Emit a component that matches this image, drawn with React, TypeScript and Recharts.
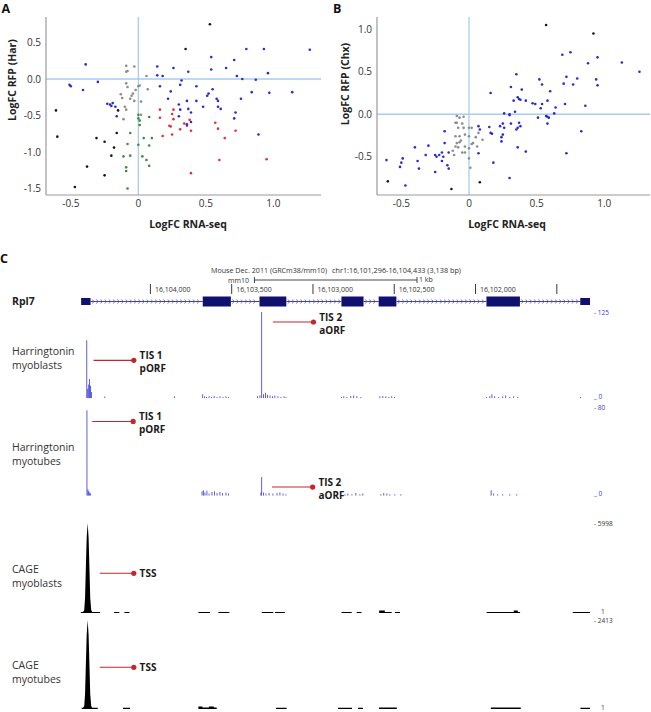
import React from 'react';
import {
  Area,
  Bar,
  ComposedChart,
  ReferenceArea,
  ReferenceDot,
  ReferenceLine,
  Scatter,
  ScatterChart,
  XAxis,
  YAxis,
} from 'recharts';

const FONT = '"Open Sans", "DejaVu Sans", sans-serif';

type Pt = [number, number];

// ---------- panel A: logFC RNA-seq vs logFC RFP (Har) ----------
const harBlue: Pt[] = [
  [-0.39, 0.2], [-0.51, -0.08], [-0.5, -0.1], [-0.41, -0.15], [-0.3, -0.04],
  [-0.23, -0.34], [-0.21, -0.35], [-0.2, -0.37], [-0.19, -0.33], [-0.17, -0.38],
  [-0.16, -0.51], [0.14, 0.17], [0.14, 0.05], [0.18, 0.04], [0.16, -0.1],
  [0.26, 0.15], [0.22, -0.27], [0.24, -0.17], [0.31, -0.08], [0.32, -0.02],
  [0.3, -0.35], [0.31, -0.42], [0.3, -0.51], [0.36, -0.3], [0.37, 0.1],
  [0.37, -0.41], [0.39, -0.46], [0.39, -0.59], [0.36, -0.62], [0.43, -0.1],
  [0.43, -0.3], [0.48, -0.38], [0.51, -0.23], [0.52, -0.2], [0.54, 0.13],
  [0.54, 0.3], [0.55, -0.14], [0.58, -0.27], [0.59, -0.3], [0.59, -0.38],
  [0.61, -0.41], [0.65, 0.15], [0.71, 0.26], [0.73, 0.04], [0.76, -0.27],
  [0.77, 0.0], [0.8, 0.41], [0.84, -0.18], [0.87, -0.01], [0.93, 0.41],
  [0.96, 0.08], [0.97, -0.19], [1.14, -0.18], [1.27, 0.4], [0.71, -0.54],
  [0.72, -0.46], [0.89, -0.76],
];
const harBlack: Pt[] = [
  [0.53, 0.75], [0.35, 0.41], [-0.61, -0.43], [-0.6, -0.79], [-0.38, -1.2],
  [-0.47, -1.48], [-0.31, -0.81], [-0.25, -0.86], [-0.25, -1.32], [-0.2, -1.05],
  [-0.18, -0.94], [-0.16, -0.74], [-0.15, -0.43],
];
const harGrey: Pt[] = [
  [-0.09, 0.18], [-0.09, 0.1], [-0.08, 0.11], [-0.03, 0.17], [-0.09, -0.06],
  [-0.08, -0.11], [-0.02, -0.15], [0.0, -0.1], [0.01, -0.09], [-0.05, -0.23],
  [-0.04, -0.2], [-0.13, -0.21], [-0.12, -0.26], [-0.1, -0.38], [-0.09, -0.42],
  [0.02, -0.31], [0.06, 0.04], [0.07, -0.14], [0.02, -0.49], [-0.11, -0.55],
  [-0.06, -0.27], [-0.03, -0.3],
];
const harGreen: Pt[] = [
  [0.0, -0.49], [0.0, -0.54], [0.01, -0.57], [0.01, -0.63], [0.08, -0.52],
  [-0.06, -0.74], [-0.08, -0.89], [0.04, -0.81], [0.1, -0.81], [0.08, -0.91],
  [0.0, -0.9], [-0.11, -1.06], [-0.06, -1.05], [0.03, -1.06], [0.06, -1.11],
  [0.08, -1.19], [-0.09, -1.21], [-0.09, -1.26], [-0.08, -1.5],
];
const harRed: Pt[] = [
  [0.16, -0.42], [0.16, -0.53], [0.26, -0.42], [0.25, -0.48], [0.26, -0.55],
  [0.23, -0.64], [0.24, -0.65], [0.18, -0.78], [0.25, -0.76], [0.31, -0.69],
  [0.34, -0.61], [0.36, -0.64], [0.38, -0.56], [0.39, -0.71], [0.57, -0.6],
  [0.59, -0.68], [0.64, -0.81], [0.72, -0.71], [0.6, -1.11], [0.39, -1.29],
  [0.95, -1.1],
];

// ---------- panel B: logFC RNA-seq vs logFC RFP (Chx) ----------
const chxBlue: Pt[] = [
  [-0.61, -0.54], [-0.51, -0.62], [-0.49, -0.52], [-0.5, -0.57], [-0.47, -0.84],
  [-0.4, -0.39], [-0.38, -0.55], [-0.37, -0.64], [-0.32, -0.48], [-0.3, -0.37],
  [-0.25, -0.48], [-0.24, -0.5], [-0.22, -0.48], [-0.25, -0.68], [-0.2, -0.45],
  [-0.19, -0.5], [-0.2, -0.55], [-0.18, -0.2], [-0.18, -0.34], [-0.16, -0.6],
  [-0.15, -0.64], [-0.15, -0.45], [0.16, 0.25], [0.07, -0.14], [0.08, -0.18],
  [0.15, -0.15], [0.16, -0.22], [0.17, -0.23], [0.07, -0.46], [0.18, -0.57],
  [0.23, -0.14], [0.24, -0.27], [0.24, -0.32], [0.25, -0.11], [0.26, -0.16],
  [0.25, -0.24], [0.26, 0.01], [0.3, 0.0], [0.3, -0.01], [0.31, -0.11],
  [0.31, 0.32], [0.33, 0.16], [0.35, 0.47], [0.36, 0.2], [0.34, 0.03],
  [0.37, 0.18], [0.38, 0.17], [0.37, -0.1], [0.35, -0.18], [0.36, -0.16],
  [0.38, -0.14], [0.39, 0.29], [0.36, -0.39], [0.42, -0.44], [0.42, 0.16],
  [0.47, 0.13], [0.49, 0.12], [0.51, -0.04], [0.52, 0.41], [0.53, 0.07],
  [0.54, 0.12], [0.54, 0.35], [0.57, -0.02], [0.58, -0.03], [0.58, -0.11],
  [0.59, -0.04], [0.58, 0.16], [0.6, 0.27], [0.64, 0.08], [0.63, 0.01],
  [0.69, 0.7], [0.7, 0.36], [0.71, 0.12], [0.72, 0.44], [0.72, -0.46],
  [0.75, 0.73], [0.77, 0.35], [0.8, 0.42], [0.83, -0.2], [0.86, 0.1],
  [0.88, 0.6], [0.94, 0.41], [0.95, 0.67], [0.95, 0.34], [1.13, 0.61],
  [1.26, 0.5], [0.3, -0.75],
];
const chxBlack: Pt[] = [
  [0.57, 1.05], [0.92, 0.95], [-0.6, -0.79], [-0.13, -0.88], [0.08, -0.8],
];
const chxGrey: Pt[] = [
  [-0.09, -0.02], [-0.07, -0.04], [-0.04, -0.03], [-0.1, -0.1], [-0.09, -0.1],
  [-0.05, -0.11], [-0.08, -0.16], [-0.04, -0.16], [0.0, -0.16], [0.02, -0.16],
  [-0.1, -0.26], [-0.07, -0.26], [-0.03, -0.24], [0.0, -0.26], [-0.09, -0.34],
  [-0.07, -0.33], [-0.1, -0.38], [-0.08, -0.39], [-0.03, -0.38], [0.0, -0.4],
  [-0.05, -0.45], [-0.03, -0.45], [-0.12, -0.43], [-0.11, -0.48], [0.0, -0.52],
  [0.01, -0.63], [0.03, -0.34], [0.06, -0.38], [0.1, -0.3], [0.07, -0.22],
  [0.02, -0.35], [-0.06, -0.31], [0.05, -0.27],
];

const scatterXTicks = [-0.5, 0, 0.5, 1.0];
const harYTicks = [-1.5, -1.0, -0.5, 0, 0.5];
const chxYTicks = [-0.5, 0, 0.5, 1.0];

// ---------- panel C: Rpl7 locus, chr1:16,101,296-16,104,433 ----------
const REGION_START = 16101296;
const REGION_END = 16104433;

// exons in display order (left to right, coordinates decrease)
const exonRanges: Pt[] = [
  [16104426, 16104368],
  [16103678, 16103505],
  [16103329, 16103164],
  [16102825, 16102689],
  [16102596, 16102487],
  [16101933, 16101727],
  [16101356, 16101296],
];
const exonIsUtr = [true, false, false, false, false, false, true];

const rulerTicks = [16104000, 16103500, 16103000, 16102500, 16102000, 16101500];
const rulerLabels = ['16,104,000', '16,103,500', '16,103,000', '16,102,500', '16,102,000', ''];
const scaleBar: Pt = [16103360, 16102360]; // 1 kb

// Harringtonin read density [position, reads]
const harMyoblasts: Pt[] = [
  [16104391, 84], [16104385, 14], [16104379, 20], [16104374, 28], [16104369, 18],
  [16104363, 9], [16104280, 2.5], [16103852, 2.5],
  [16103678, 6], [16103667, 3], [16103655, 2], [16103639, 3], [16103624, 2],
  [16103608, 3.5], [16103590, 2], [16103572, 3], [16103553, 2], [16103535, 3],
  [16103519, 2],
  [16103341, 3], [16103326, 4], [16103315, 125], [16103304, 6], [16103292, 8],
  [16103280, 5], [16103264, 4], [16103249, 3], [16103234, 4], [16103215, 3],
  [16103197, 2], [16103178, 3], [16103166, 2],
  [16102825, 2], [16102810, 3], [16102791, 2], [16102767, 3.5], [16102749, 4],
  [16102730, 3], [16102705, 2],
  [16102588, 3], [16102570, 3.5], [16102551, 3], [16102533, 2], [16102515, 3],
  [16102497, 2],
  [16101931, 2], [16101912, 3], [16101899, 6], [16101882, 3], [16101857, 2],
  [16101832, 3], [16101814, 4], [16101789, 2], [16101765, 3], [16101740, 2],
  [16101353, 2],
];
const harMyotubes: Pt[] = [
  [16104390, 77], [16104384, 6], [16104379, 4], [16104373, 3], [16104367, 2],
  [16103682, 4], [16103674, 5], [16103664, 3], [16103652, 4.5], [16103639, 2],
  [16103621, 3.5], [16103605, 4], [16103590, 2.5], [16103572, 3.5], [16103556, 2.5],
  [16103535, 3], [16103519, 2],
  [16103320, 3], [16103315, 17], [16103304, 3], [16103289, 2], [16103270, 2.5],
  [16103246, 2], [16103221, 2.5], [16103203, 3], [16103184, 2], [16103166, 1.5],
  [16102803, 1.5], [16102785, 2], [16102760, 1.5], [16102736, 2.5], [16102711, 1.5],
  [16102693, 2],
  [16102582, 1.5], [16102564, 2.5], [16102545, 2], [16102527, 1.5], [16102496, 1.5],
  [16102459, 1.5],
  [16101904, 5], [16101888, 2], [16101863, 1.5], [16101832, 1.5], [16101789, 1.5],
  [16101746, 1.5],
];

// CAGE tag density: low plateaus [from, to, tags] and the TSS peak [position, tags]
type Dash = [number, number, number];
const cageMyoblastDashes: Dash[] = [
  [16104428, 16104309, 75], [16104223, 16104191, 60], [16104160, 16104129, 60],
  [16103705, 16103633, 70], [16103582, 16103514, 70], [16103315, 16103244, 70],
  [16103234, 16103173, 70], [16102824, 16102762, 70], [16102731, 16102701, 60],
  [16102593, 16102558, 170], [16102558, 16102516, 70], [16102496, 16102465, 60],
  [16101932, 16101765, 70], [16101765, 16101740, 170], [16101740, 16101726, 70],
  [16101402, 16101296, 70],
];
const cageMyoblastPeak: Pt[] = [
  [16104414, 75], [16104407, 200], [16104402, 1000], [16104397, 3000], [16104392, 5000],
  [16104386, 5998], [16104380, 5000], [16104375, 3000], [16104370, 1000], [16104364, 200],
  [16104358, 75],
];
const cageMyotubeDashes: Dash[] = [
  [16104423, 16104324, 35], [16104168, 16104125, 35], [16103705, 16103680, 70],
  [16103680, 16103640, 40], [16103640, 16103610, 70], [16103610, 16103592, 40],
  [16103227, 16103162, 35], [16102846, 16102760, 35], [16102723, 16102692, 35],
  [16102594, 16102484, 40], [16101906, 16101722, 40], [16101355, 16101296, 35],
];
const cageMyotubePeak: Pt[] = [
  [16104414, 35], [16104407, 80], [16104402, 400], [16104397, 1200], [16104392, 2000],
  [16104386, 2413], [16104380, 2000], [16104375, 1200], [16104370, 400], [16104364, 80],
  [16104358, 35],
];

interface Note {
  lines: string[];
  from: number;
  to: number;
  level: number;
}
const harMyoblastNotes: Note[] = [
  { lines: ['TIS 2', 'aORF'], from: 16103247, to: 16102997, level: 110.5 },
  { lines: ['TIS 1', 'pORF'], from: 16104350, to: 16104102, level: 55 },
];
const harMyotubeNotes: Note[] = [
  { lines: ['TIS 1', 'pORF'], from: 16104358, to: 16104106, level: 67 },
  { lines: ['TIS 2', 'aORF'], from: 16103252, to: 16103002, level: 7.9 },
];
const cageMyoblastNotes: Note[] = [{ lines: ['TSS'], from: 16104311, to: 16104102, level: 2645 }];
const cageMyotubeNotes: Note[] = [{ lines: ['TSS'], from: 16104311, to: 16104102, level: 1131 }];

const FRAME = '#9a9a9a';
const ZERO = '#a6cdef';
const NAVY = '#10106f';
const SIGNAL = '#2626d4';
const RED = '#c4262e';

const toRows = (pts: Pt[]) => pts.map(([x, y]) => ({ x, y }));
const fmtX = (v: number) => (v === 0 ? '0' : v.toFixed(1));
const fmtY = (v: number) => v.toFixed(1);
const tickStyle = { fill: '#333', fontSize: 10, fontFamily: FONT };

const Dot = (props: any) => {
  const { cx, cy, fill } = props;
  if (cx == null || cy == null) return <g />;
  return <circle cx={cx} cy={cy} r={1.3} fill={fill} />;
};

interface ScatterPanelProps {
  left: number;
  width: number;
  margin: { top: number; right: number; bottom: number; left: number };
  xDomain: [number, number];
  yDomain: [number, number];
  yTicks: number[];
  groups: { pts: Pt[]; color: string }[];
}

const ScatterPanel = ({ left, width, margin, xDomain, yDomain, yTicks, groups }: ScatterPanelProps) => (
  <div style={{ position: 'absolute', left, top: 0 }}>
    <ScatterChart width={width} height={240} margin={margin}>
      <XAxis
        dataKey="x"
        type="number"
        domain={xDomain}
        ticks={scatterXTicks}
        interval={0}
        allowDataOverflow
        tickFormatter={fmtX}
        height={30}
        tickLine={false}
        tickSize={3}
        tickMargin={2}
        axisLine={{ stroke: FRAME, strokeWidth: 1.2 }}
        tick={tickStyle}
      />
      <YAxis
        dataKey="y"
        type="number"
        domain={yDomain}
        ticks={yTicks}
        interval={0}
        allowDataOverflow
        tickFormatter={fmtY}
        width={30}
        tickLine={false}
        tickSize={3}
        tickMargin={2}
        axisLine={{ stroke: FRAME, strokeWidth: 1.2 }}
        tick={tickStyle}
      />
      <XAxis
        xAxisId="frame"
        orientation="top"
        type="number"
        domain={xDomain}
        height={0}
        tick={false}
        tickLine={false}
        axisLine={{ stroke: FRAME, strokeWidth: 1.2 }}
      />
      <YAxis
        yAxisId="frame"
        orientation="right"
        type="number"
        domain={yDomain}
        width={0}
        tick={false}
        tickLine={false}
        axisLine={{ stroke: FRAME, strokeWidth: 1.2 }}
      />
      <ReferenceLine x={0} stroke={ZERO} strokeWidth={1.3} />
      <ReferenceLine y={0} stroke={ZERO} strokeWidth={1.3} />
      {groups.map((g, i) => (
        <Scatter key={i} data={toRows(g.pts)} fill={g.color} shape={Dot} isAnimationActive={false} />
      ))}
    </ScatterChart>
  </div>
);

// ---------- genome browser ----------
const CHART_W = 651;
const PLOT_LEFT = 80;
const PLOT_RIGHT = 590;

const GENE_TOP = 262;
const GENE_H = 50;
const GENE_Y = 39.5;

const introns: Pt[] = exonRanges.slice(0, -1).map((e, i) => [e[1], exonRanges[i + 1][0]]);
const rulerRows = rulerTicks.map((pos, i) => ({ pos, y: 22, label: rulerLabels[i] }));

const IntronShape = (props: any) => {
  const { x1, y1, x2 } = props;
  if (x1 == null) return <g />;
  const a = Math.min(x1, x2);
  const b = Math.max(x1, x2);
  const marks: React.ReactElement[] = [];
  for (let x = a + 2.5; x < b - 1.5; x += 4.2) {
    marks.push(
      <path
        key={x}
        d={`M${x - 1.1},${y1 - 2} L${x + 1.1},${y1} L${x - 1.1},${y1 + 2}`}
        fill="none"
        stroke="#5b5bd2"
        strokeWidth={0.8}
      />,
    );
  }
  return (
    <g>
      <line x1={a} x2={b} y1={y1} y2={y1} stroke="#2a2a9c" strokeWidth={0.9} />
      {marks}
    </g>
  );
};

const RulerTick = (props: any) => {
  const { cx, cy, payload } = props;
  if (cx == null) return <g />;
  return (
    <g>
      <line x1={cx} x2={cx} y1={cy} y2={cy + 10} stroke="#222" strokeWidth={0.9} />
      <text x={cx + 4.5} y={cy + 7.6} fontSize={7} fill="#333" fontFamily={FONT}>
        {payload.label}
      </text>
    </g>
  );
};

const GeneModel = () => {
  const pad = 6;
  return (
    <div style={{ position: 'absolute', left: 0, top: GENE_TOP - pad }}>
      <ComposedChart
        width={CHART_W}
        height={GENE_H + 2 * pad}
        data={rulerRows}
        margin={{ top: pad, right: CHART_W - PLOT_RIGHT, bottom: pad, left: PLOT_LEFT }}
      >
        <XAxis dataKey="pos" type="number" domain={[REGION_START, REGION_END]} reversed hide allowDataOverflow />
        <YAxis dataKey="y" type="number" domain={[0, GENE_H]} reversed hide allowDataOverflow />
        <ReferenceLine
          segment={[{ x: scaleBar[0], y: 18 }, { x: scaleBar[1], y: 18 }]}
          stroke="#333"
          strokeWidth={0.9}
        />
        <ReferenceLine
          segment={[{ x: scaleBar[0], y: 15 }, { x: scaleBar[0], y: 21 }]}
          stroke="#333"
          strokeWidth={0.9}
        />
        <ReferenceLine
          segment={[{ x: scaleBar[1], y: 15 }, { x: scaleBar[1], y: 21 }]}
          stroke="#333"
          strokeWidth={0.9}
        />
        {introns.map(([a, b], i) => (
          <ReferenceLine
            key={`in${i}`}
            segment={[{ x: a, y: GENE_Y }, { x: b, y: GENE_Y }]}
            shape={IntronShape}
          />
        ))}
        {exonRanges.map(([a, b], i) => (
          <ReferenceArea
            key={`ex${i}`}
            x1={a}
            x2={b}
            y1={exonIsUtr[i] ? GENE_Y - 3.5 : GENE_Y - 5}
            y2={exonIsUtr[i] ? GENE_Y + 3.5 : GENE_Y + 5}
            fill={NAVY}
            fillOpacity={1}
            stroke="none"
          />
        ))}
        <Scatter data={rulerRows} dataKey="y" shape={RulerTick} isAnimationActive={false} />
      </ComposedChart>
    </div>
  );
};

const cageRows = (dashes: Dash[], peak: Pt[]) => {
  const rows: { pos: number; v: number | null }[] = [];
  dashes.forEach(([a, b, h], i) => {
    const seg = [
      { pos: a, v: h },
      { pos: b, v: h },
      ...peak.filter(([p]) => p < a && p > b).map(([pos, v]) => ({ pos, v })),
    ];
    seg.sort((p, q) => q.pos - p.pos);
    rows.push(...seg);
    if (i < dashes.length - 1) rows.push({ pos: (b + dashes[i + 1][0]) / 2, v: null });
  });
  return rows;
};

const noteShape = (lines: string[]) => (p: any) => {
  if (p.cx == null) return <g />;
  const textProps = { fontSize: 10, fontWeight: 700, fill: '#1a1a1a', fontFamily: FONT };
  return (
    <g>
      <circle cx={p.cx} cy={p.cy} r={2.6} fill={RED} />
      {lines.length === 1 ? (
        <text x={p.cx + 5.8} y={p.cy + 3.6} {...textProps}>
          {lines[0]}
        </text>
      ) : (
        lines.map((t, i) => (
          <text key={t} x={p.cx + 5.8} y={p.cy + (i === 0 ? -1.5 : 11.8)} {...textProps}>
            {t}
          </text>
        ))
      )}
    </g>
  );
};

interface TrackProps {
  top: number;
  bottom: number;
  min: number;
  max: number;
  kind: 'bar' | 'area';
  rows: { pos: number; v: number | null }[];
  color: string;
  labelColor: string;
  notes: Note[];
}

const Track = ({ top, bottom, min, max, kind, rows, color, labelColor, notes }: TrackProps) => {
  const pad = 8;
  const axisW = 40;
  const renderTick = (p: any) => {
    const v = p.payload.value;
    const base = { fontSize: 6.5, fill: labelColor, fontFamily: FONT };
    if (v === max) {
      return (
        <text x={p.x + 4} y={p.y + 3} {...base}>
          {`- ${v}`}
        </text>
      );
    }
    return kind === 'bar' ? (
      <text x={p.x + 4} y={p.y + 0.5} {...base}>
        {`_ ${v}`}
      </text>
    ) : (
      <text x={p.x + 11} y={p.y + 1.2} {...base}>
        {v}
      </text>
    );
  };
  return (
    <div style={{ position: 'absolute', left: 0, top: top - pad }}>
      <ComposedChart
        width={CHART_W}
        height={bottom - top + 2 * pad}
        data={rows}
        margin={{ top: pad, right: CHART_W - PLOT_RIGHT - axisW, bottom: pad, left: PLOT_LEFT }}
      >
        <XAxis dataKey="pos" type="number" domain={[REGION_START, REGION_END]} reversed hide allowDataOverflow />
        <YAxis
          orientation="right"
          type="number"
          domain={[min, max]}
          ticks={[min, max]}
          interval={0}
          width={axisW}
          axisLine={false}
          tickLine={false}
          tickSize={0}
          tickMargin={0}
          tick={renderTick}
          allowDataOverflow
        />
        {kind === 'bar' ? (
          <Bar dataKey="v" fill={color} barSize={1} isAnimationActive={false} />
        ) : (
          <Area
            type="linear"
            dataKey="v"
            fill={color}
            fillOpacity={1}
            stroke="none"
            baseValue={min}
            isAnimationActive={false}
          />
        )}
        {notes.map((n, i) => (
          <ReferenceLine
            key={`l${i}`}
            segment={[{ x: n.from, y: n.level }, { x: n.to, y: n.level }]}
            stroke={RED}
            strokeWidth={1.1}
          />
        ))}
        {notes.map((n, i) => (
          <ReferenceDot key={`d${i}`} x={n.to} y={n.level} r={2.6} shape={noteShape(n.lines)} />
        ))}
      </ComposedChart>
    </div>
  );
};

const pairRows = (pts: Pt[]) => pts.map(([pos, v]) => ({ pos, v }));

const tracks: TrackProps[] = [
  {
    top: 311.7, bottom: 398, min: 0, max: 125, kind: 'bar',
    rows: pairRows(harMyoblasts), color: SIGNAL, labelColor: '#3a3ad0', notes: harMyoblastNotes,
  },
  {
    top: 406.7, bottom: 495.5, min: 0, max: 80, kind: 'bar',
    rows: pairRows(harMyotubes), color: SIGNAL, labelColor: '#3a3ad0', notes: harMyotubeNotes,
  },
  {
    top: 523, bottom: 613, min: 1, max: 5998, kind: 'area',
    rows: cageRows(cageMyoblastDashes, cageMyoblastPeak), color: '#000', labelColor: '#333',
    notes: cageMyoblastNotes,
  },
  {
    top: 620, bottom: 709, min: 1, max: 2413, kind: 'area',
    rows: cageRows(cageMyotubeDashes, cageMyotubePeak), color: '#000', labelColor: '#333',
    notes: cageMyotubeNotes,
  },
];

const trackLabels: { lines: string[]; y: number }[] = [
  { lines: ['Harringtonin', 'myoblasts'], y: 354.5 },
  { lines: ['Harringtonin', 'myotubes'], y: 450.8 },
  { lines: ['CAGE', 'myoblasts'], y: 573 },
  { lines: ['CAGE', 'myotubes'], y: 669 },
];

export default function App() {
  const letter = { fontSize: 12.5, fontWeight: 700, fill: '#111', fontFamily: FONT };
  const axisTitle = { fontSize: 10.5, fontWeight: 700, fill: '#222', fontFamily: FONT, textAnchor: 'middle' as const };
  return (
    <div
      style={{
        position: 'relative',
        width: 651,
        height: 712,
        background: '#fff',
        overflow: 'hidden',
        fontFamily: FONT,
      }}
    >
      <style>{'body{margin:0}'}</style>
      <ScatterPanel
        left={0}
        width={330}
        margin={{ top: 17, right: 9, bottom: 15, left: 16 }}
        xDomain={[-0.684, 1.353]}
        yDomain={[-1.589, 0.849]}
        yTicks={harYTicks}
        groups={[
          { pts: harGrey, color: '#8c8c8c' },
          { pts: harGreen, color: '#3b8c3b' },
          { pts: harRed, color: '#e0303c' },
          { pts: harBlack, color: '#161616' },
          { pts: harBlue, color: '#2b2bcf' },
        ]}
      />
      <ScatterPanel
        left={320}
        width={331}
        margin={{ top: 17, right: 1, bottom: 15, left: 27 }}
        xDomain={[-0.68, 1.338]}
        yDomain={[-0.951, 1.145]}
        yTicks={chxYTicks}
        groups={[
          { pts: chxGrey, color: '#8c8c8c' },
          { pts: chxBlack, color: '#161616' },
          { pts: chxBlue, color: '#2b2bcf' },
        ]}
      />
      <GeneModel />
      {tracks.map((t, i) => (
        <Track key={i} {...t} />
      ))}
      <svg
        width={651}
        height={712}
        style={{ position: 'absolute', left: 0, top: 0, pointerEvents: 'none' }}
      >
        <text x={1.5} y={13.4} {...letter}>A</text>
        <text x={333} y={13.4} {...letter}>B</text>
        <text x={0} y={263} {...letter}>C</text>

        <text x={188} y={227.6} {...axisTitle}>LogFC RNA-seq</text>
        <text x={507} y={227.6} {...axisTitle}>LogFC RNA-seq</text>
        <text transform="translate(16,80) rotate(-90)" {...axisTitle}>LogFC RFP (Har)</text>
        <text transform="translate(348.6,84) rotate(-90)" {...axisTitle}>LogFC RFP (Chx)</text>

        <text x={211} y={272.5} fontSize={7} fill="#333" fontFamily={FONT} textLength={116} lengthAdjust="spacingAndGlyphs">
          Mouse Dec. 2011 (GRCm38/mm10)
        </text>
        <text x={332} y={272.5} fontSize={7} fill="#333" fontFamily={FONT} textLength={129} lengthAdjust="spacingAndGlyphs">
          chr1:16,101,296-16,104,433 (3,138 bp)
        </text>
        <text x={249} y={282.5} fontSize={7} fill="#333" fontFamily={FONT} textAnchor="end">mm10</text>
        <text x={419} y={281.5} fontSize={7} fill="#333" fontFamily={FONT}>1 kb</text>

        <text x={12} y={305} fontSize={10.5} fontWeight={700} fill="#222" fontFamily={FONT}>Rpl7</text>
        {trackLabels.map((l) =>
          l.lines.map((s, j) => (
            <text key={`${l.y}-${j}`} x={12} y={l.y + j * 14} fontSize={10.5} fill="#333" fontFamily={FONT}>
              {s}
            </text>
          )),
        )}
      </svg>
    </div>
  );
}
